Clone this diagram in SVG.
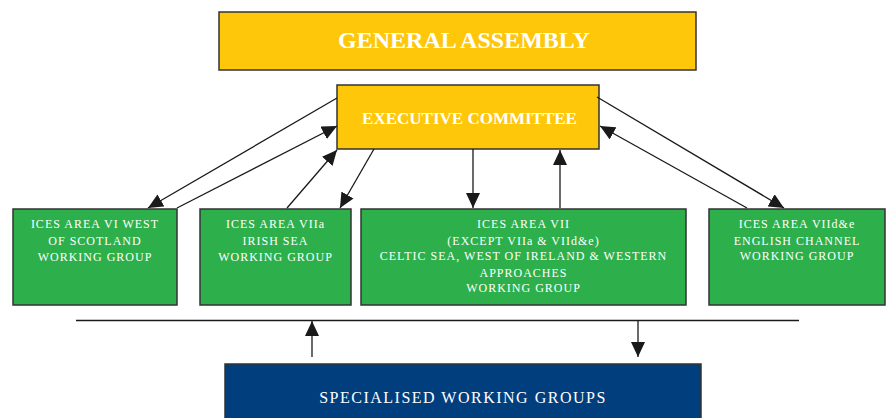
<svg xmlns="http://www.w3.org/2000/svg" width="889" height="418" viewBox="0 0 889 418">
  <style>
    .box { stroke: #333; stroke-width: 1.5; }
    .yellow { fill: #FFC709; }
    .green { fill: #2DB04B; }
    .blue { fill: #003E7E; }
    .title { font-family: "Liberation Serif", "Times New Roman", serif; font-weight: bold; fill: #fff; text-anchor: middle; }
    .label { font-family: "Liberation Serif", "Times New Roman", serif; font-size: 12px; letter-spacing: 1px; fill: #fff; text-anchor: middle; }
    .conn { stroke: #1a1a1a; stroke-width: 1.3; fill: none; marker-end: url(#arrow); }
    .plain { stroke: #1a1a1a; stroke-width: 1.3; fill: none; }
  </style>
  <defs>
    <marker id="arrow" markerUnits="userSpaceOnUse" markerWidth="16" markerHeight="14" refX="15" refY="7" orient="auto">
      <path d="M0,0 L15,7 L0,14 Z" fill="#1a1a1a"/>
    </marker>
  </defs>

  <g id="general-assembly">
    <rect class="box yellow" x="219" y="12" width="477" height="58"/>
    <text class="title" x="464" y="48" font-size="24">GENERAL ASSEMBLY</text>
  </g>

  <g id="executive-committee">
    <rect class="box yellow" x="337" y="85" width="262" height="64"/>
    <text class="title" x="469.5" y="124" font-size="17">EXECUTIVE COMMITTEE</text>
  </g>

  <g id="wg-area-vi">
    <rect class="box green" x="13" y="209" width="164" height="96"/>
    <text class="label" x="95" y="228">ICES AREA VI WEST</text>
    <text class="label" x="95" y="245">OF SCOTLAND</text>
    <text class="label" x="95" y="261">WORKING GROUP</text>
  </g>

  <g id="wg-area-viia">
    <rect class="box green" x="200" y="209" width="151" height="96"/>
    <text class="label" x="275.5" y="228">ICES AREA VIIa</text>
    <text class="label" x="275.5" y="245">IRISH SEA</text>
    <text class="label" x="275.5" y="261">WORKING GROUP</text>
  </g>

  <g id="wg-area-vii">
    <rect class="box green" x="361" y="209" width="325" height="96"/>
    <text class="label" x="523.5" y="228">ICES AREA VII</text>
    <text class="label" x="523.5" y="245">(EXCEPT VIIa &amp; VIId&amp;e)</text>
    <text class="label" x="523.5" y="260">CELTIC SEA, WEST OF IRELAND &amp; WESTERN</text>
    <text class="label" x="523.5" y="277">APPROACHES</text>
    <text class="label" x="523.5" y="292">WORKING GROUP</text>
  </g>

  <g id="wg-area-viide">
    <rect class="box green" x="709" y="209" width="176" height="96"/>
    <text class="label" x="797" y="228">ICES AREA VIId&amp;e</text>
    <text class="label" x="797" y="245">ENGLISH CHANNEL</text>
    <text class="label" x="797" y="260">WORKING GROUP</text>
  </g>

  <g id="specialised-working-groups">
    <rect class="box blue" x="225" y="364" width="476" height="60"/>
    <text class="label" x="463" y="403" style="font-size:16px;letter-spacing:1.5px">SPECIALISED WORKING GROUPS</text>
  </g>

  <g id="connectors">
    <!-- Executive Committee <-> Area VI -->
    <line class="conn" x1="337" y1="98" x2="148" y2="208"/>
    <line class="conn" x1="177" y1="208" x2="337" y2="126"/>
    <!-- Executive Committee <-> Area VIIa -->
    <line class="conn" x1="287" y1="208" x2="337" y2="150"/>
    <line class="conn" x1="374" y1="149" x2="340" y2="208"/>
    <!-- Executive Committee <-> Area VII -->
    <line class="conn" x1="473" y1="149" x2="473" y2="208"/>
    <line class="conn" x1="560" y1="208" x2="560" y2="150"/>
    <!-- Executive Committee <-> Area VIId&e -->
    <line class="conn" x1="597" y1="97" x2="784" y2="208"/>
    <line class="conn" x1="747" y1="208" x2="600" y2="126"/>
    <!-- Bus line and specialised groups -->
    <line class="plain" x1="76" y1="320.5" x2="799" y2="320.5"/>
    <line class="conn" x1="312" y1="357" x2="312" y2="321"/>
    <line class="conn" x1="638" y1="321" x2="638" y2="357"/>
  </g>
</svg>
